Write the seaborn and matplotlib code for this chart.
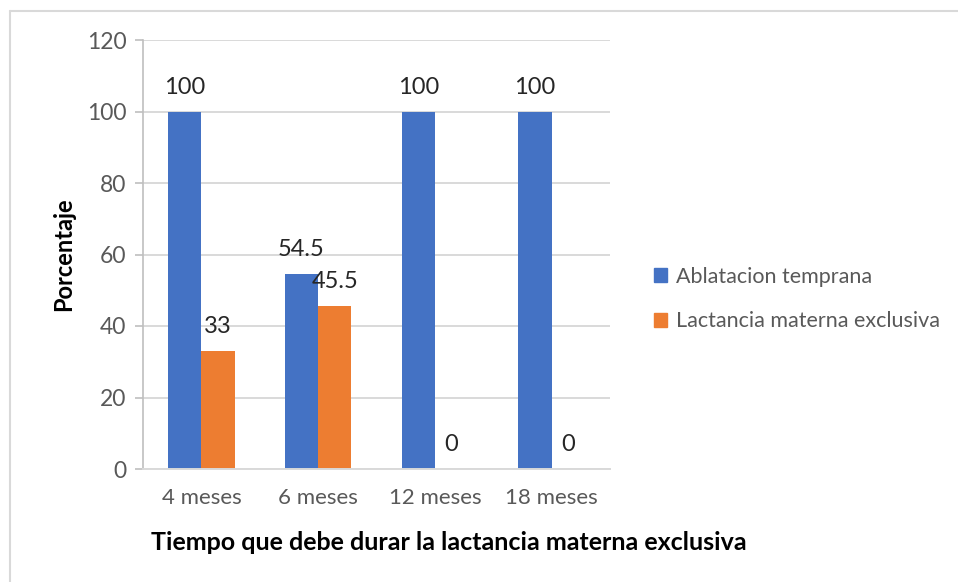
import matplotlib
matplotlib.use("Agg")
import matplotlib.pyplot as plt
from matplotlib.lines import Line2D
import seaborn as sns
import pandas as pd

categories = ["4 meses", "6 meses", "12 meses", "18 meses"]
series_names = ["Ablatacion temprana", "Lactancia materna exclusiva"]
ablatacion = [100, 54.5, 100, 100]
lactancia = [33, 45.5, 0, 0]
y_ticks = [0, 20, 40, 60, 80, 100, 120]

colors = ["#4472C4", "#ED7D31"]

df = pd.DataFrame({
    "Tiempo": categories * 2,
    "Serie": [series_names[0]] * len(categories) + [series_names[1]] * len(categories),
    "Porcentaje": ablatacion + lactancia,
})

sns.set_theme(style="white")
plt.rcParams["font.family"] = ["Lato", "DejaVu Sans"]

fig = plt.figure(figsize=(9.58, 5.82), dpi=100)
ax = fig.add_axes([143 / 958, 1 - 469 / 582, (610 - 143) / 958, (469 - 40) / 582])

sns.barplot(data=df, x="Tiempo", y="Porcentaje", hue="Serie", order=categories,
            hue_order=series_names, palette=colors, width=0.57, gap=0,
            saturation=1, ax=ax, legend=False, errorbar=None, linewidth=0)

for cont in ax.containers:
    ax.bar_label(cont, labels=[f"{v:g}" for v in cont.datavalues], padding=10,
                 fontsize=17, color="#262626")

ax.set_ylim(0, 120)
ax.set_yticks(y_ticks)
ax.set_xlim(-0.5, len(categories) - 0.5)
ax.grid(axis="y", color="#D9D9D9", linewidth=1.4)
ax.set_axisbelow(True)
for side in ["top", "right"]:
    ax.spines[side].set_visible(False)
ax.spines["left"].set_color("#BFBFBF")
ax.spines["bottom"].set_color("#D9D9D9")
ax.spines["left"].set_linewidth(1.2)
ax.spines["bottom"].set_linewidth(1.4)
ax.tick_params(axis="y", length=6, width=1.2, color="#BFBFBF", pad=6,
               labelsize=16.5, labelcolor="#595959", left=True)
ax.tick_params(axis="x", length=0, pad=14, labelsize=16, labelcolor="#595959")
ax.set_xlabel("")
ax.set_ylabel("Porcentaje", fontsize=17, fontweight="bold", color="black", labelpad=8)

fig.text(449 / 958, 1 - 543 / 582, "Tiempo que debe durar la lactancia materna exclusiva",
         ha="center", va="center", fontsize=18, fontweight="bold", color="black")

handles = [plt.Rectangle((0, 0), 1, 1, color=c) for c in colors]
fig.legend(handles, series_names, loc="center left", bbox_to_anchor=(643 / 958, 1 - 299 / 582),
           frameon=False, fontsize=15.5, labelcolor="#595959", handlelength=0.6,
           handleheight=0.6, handletextpad=0.45, labelspacing=1.15, borderpad=0)

# light frame along the top and left edges of the chart area
fig.add_artist(Line2D([10 / 958, 10 / 958], [0, 1 - 11 / 582], transform=fig.transFigure,
                      color="#D9D9D9", linewidth=1.5))
fig.add_artist(Line2D([10 / 958, 1], [1 - 11 / 582, 1 - 11 / 582], transform=fig.transFigure,
                      color="#D9D9D9", linewidth=1.5))

fig.savefig("out.png", dpi=100)
